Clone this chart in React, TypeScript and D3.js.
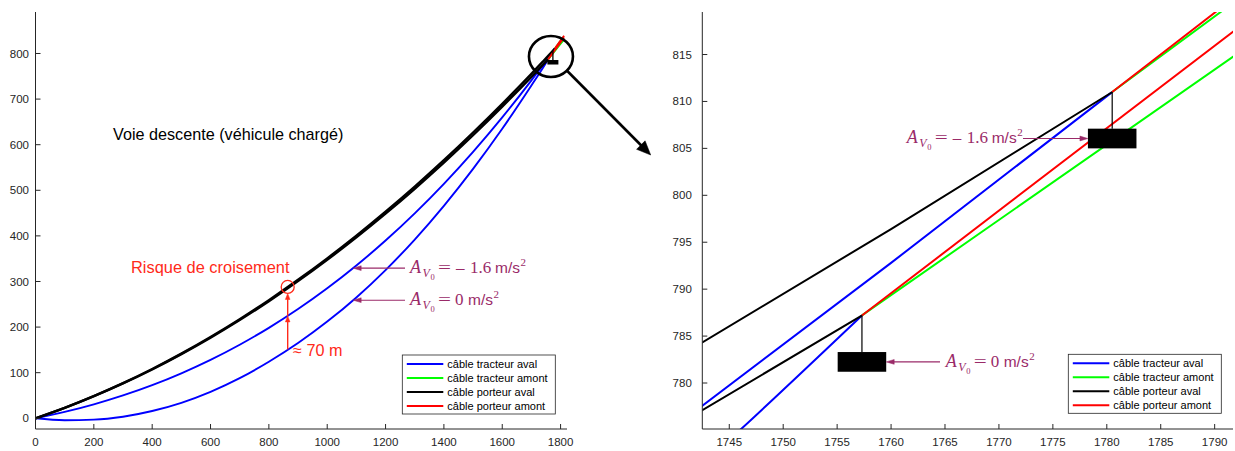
import React from "react";
import * as d3 from "d3";

const W = 1235;
const H = 451;

// ---------- tick values ----------
const xTicksLeft = [0, 200, 400, 600, 800, 1000, 1200, 1400, 1600, 1800];
const yTicksLeft = [0, 100, 200, 300, 400, 500, 600, 700, 800];
const xTicksRight = [1745, 1750, 1755, 1760, 1765, 1770, 1775, 1780, 1785, 1790];
const yTicksRight = [780, 785, 790, 795, 800, 805, 810, 815];

// ---------- legend ----------
const legendLabels = ["câble tracteur aval", "câble tracteur amont", "câble porteur aval", "câble porteur amont"];
const legendColors = ["#0000ff", "#00ff00", "#000000", "#ff0000"];

// ---------- series (x [m], altitude [m]) ----------
// câble tracteur aval, A_V0 = -1.6 m/s²
const tracteurAvalA16: [number, number][] = [
  [0, 0], [100, 13.9], [200, 30.6], [300, 50.1], [400, 72.7], [500, 98.7], [600, 128.1],
  [700, 161.3], [800, 198.4], [900, 239.6], [1000, 285.1], [1100, 335.1], [1200, 389.8],
  [1300, 449.4], [1400, 514.2], [1500, 584.3], [1600, 659.9], [1700, 741.2], [1740, 775.4],
  [1760, 792.8], [1780.5, 811],
];
// câble tracteur aval, A_V0 = 0 m/s²
const tracteurAvalA0: [number, number][] = [
  [0, 0], [100, -4.3], [200, -3.0], [300, 3.5], [400, 16], [500, 34], [600, 58], [700, 88],
  [800, 124], [900, 165], [1000, 212], [1100, 265], [1200, 325], [1300, 392], [1400, 466],
  [1500, 547], [1600, 635], [1700, 730], [1746.1, 775.1], [1757.3, 787.2],
];
// câble porteur aval, A_V0 = -1.6 m/s²
const porteurAvalA16: [number, number][] = [
  [0, 0], [100, 23.0], [200, 48.8], [300, 77.1], [400, 108.1], [500, 141.9], [600, 178.3],
  [700, 217.4], [800, 259.1], [900, 303.6], [1000, 350.7], [1100, 400.5], [1200, 453.0],
  [1300, 508.1], [1400, 565.9], [1500, 626.5], [1600, 689.7], [1700, 755.6], [1740, 782.6],
  [1760, 796.4], [1780.5, 811.0],
];
// câble porteur aval, A_V0 = 0 m/s²
const porteurAvalA0: [number, number][] = [
  [0, 0], [100, 22.8], [200, 48.4], [300, 76.4], [400, 107.1], [500, 140.6], [600, 176.7],
  [700, 215.4], [800, 256.7], [900, 300.8], [1000, 347.5], [1100, 396.8], [1200, 448.8],
  [1300, 503.4], [1400, 560.7], [1500, 620.7], [1600, 683.4], [1700, 748.6], [1740, 775.4],
  [1757.3, 787.2],
];
// amont segments
const tracteurAmontA16: [number, number][] = [[1780.5, 811], [1795, 823.3], [1810, 836.1]];
const tracteurAmontA0: [number, number][] = [[1757.3, 787.2], [1792, 815.0], [1810, 829.4]];
const porteurAmontA16: [number, number][] = [[1780.5, 811], [1795, 823.9], [1812, 839]];
const porteurAmontA0: [number, number][] = [[1757.3, 787.2], [1792, 817.7], [1812, 835.2]];

// vehicles (attachment points)
const carA16 = { x: 1780.5, y: 811 };
const carA0 = { x: 1757.3, y: 787.2 };

// annotation anchors (data units)
const crossX = 864.5;
const crossLow = 151;
const crossMid = 224.5;
const crossTop = 288;
const labelTipX = 1089;
const labelTipA16 = 329.3;
const labelTipA0 = 259;

// ---------- styles ----------
const AXIS = "#262626";
const PURPLE = "#9a2a68";
const RED_TXT = "#ff2a1a";
const SANS = "'Liberation Sans', Arial, Helvetica, sans-serif";
const SERIF = "'Liberation Serif', 'Times New Roman', serif";

// ---------- scales ----------
const xL = d3.scaleLinear().domain([0, 1822]).range([35.5, 567]);
const yL = d3.scaleLinear().domain([-23.5, 891]).range([429, 12]);
const xR = d3.scaleLinear().domain([1742.5, 1791.7]).range([702.3, 1233]);
const yR = d3.scaleLinear().domain([775.1, 819.53]).range([429, 12]);

type Sc = d3.ScaleLinear<number, number>;

function Axes({ x, y, xTicks, yTicks, gap }: { x: Sc; y: Sc; xTicks: number[]; yTicks: number[]; gap: number }) {
  const [x0, x1] = x.range();
  const [yb, yt] = y.range();
  return (
    <g>
      <line x1={x0} x2={x1} y1={yb} y2={yb} stroke={AXIS} strokeWidth={1} />
      <line x1={x0} x2={x0} y1={yb} y2={yt} stroke={AXIS} strokeWidth={1} />
      {xTicks.map((t) => (
        <g key={"x" + t}>
          <line x1={x(t)} x2={x(t)} y1={yb} y2={yb - 5} stroke={AXIS} />
          <text x={x(t)} y={446} textAnchor="middle" fontFamily={SANS} fontSize={11.5} fill={AXIS}>
            {t}
          </text>
        </g>
      ))}
      {yTicks.map((t) => (
        <g key={"y" + t}>
          <line x1={x0} x2={x0 + 5} y1={y(t)} y2={y(t)} stroke={AXIS} />
          <text x={x0 - gap} y={y(t)} dy="0.35em" textAnchor="end" fontFamily={SANS} fontSize={11.5} fill={AXIS}>
            {t}
          </text>
        </g>
      ))}
    </g>
  );
}

function Legend({ x, y }: { x: number; y: number }) {
  return (
    <g>
      <rect x={x} y={y} width={153} height={59} fill="#fff" stroke={AXIS} strokeWidth={0.8} />
      {legendLabels.map((l, i) => {
        const ry = y + 9 + i * 14;
        return (
          <g key={l}>
            <line x1={x + 4.5} x2={x + 41} y1={ry} y2={ry} stroke={legendColors[i]} strokeWidth={2} />
            <text x={x + 45} y={ry} dy="0.35em" fontFamily={SANS} fontSize={11} fill="#000">
              {l}
            </text>
          </g>
        );
      })}
    </g>
  );
}

function MathLabel({ x, y, neg }: { x: number; y: number; neg: boolean }) {
  return (
    <text fill={PURPLE} fontFamily={SERIF} fontSize={17}>
      <tspan x={x} y={y} fontStyle="italic" fontSize={18}>A</tspan>
      <tspan x={x + 12.5} y={y + 4} fontStyle="italic" fontSize={12}>V</tspan>
      <tspan x={x + 20.5} y={y + 7} fontSize={8.5}>0</tspan>
      <tspan x={x + 28} y={y} textLength={13} lengthAdjust="spacingAndGlyphs">=</tspan>
      {neg ? (
        <>
          <tspan x={x + 46} y={y}>–</tspan>
          <tspan x={x + 60} y={y}>1.6</tspan>
        </>
      ) : (
        <tspan x={x + 45} y={y}>0</tspan>
      )}
      <tspan x={x + (neg ? 85 : 58)} y={y} fontFamily={SANS} fontSize={15.5}>m/s</tspan>
      <tspan x={x + (neg ? 110.5 : 83.5)} y={y - 7} fontSize={11}>2</tspan>
    </text>
  );
}

function Arrow({ x1, y1, x2, y2, color, width, head, half }: { x1: number; y1: number; x2: number; y2: number; color: string; width: number; head: number; half: number }) {
  const dx = x2 - x1;
  const dy = y2 - y1;
  const len = Math.hypot(dx, dy);
  const ux = dx / len;
  const uy = dy / len;
  const bx = x2 - ux * head;
  const by = y2 - uy * head;
  const px = -uy;
  const py = ux;
  const tri = `M${x2},${y2}L${bx + px * half},${by + py * half}L${bx - px * half},${by - py * half}Z`;
  return (
    <g>
      <line x1={x1} y1={y1} x2={bx + ux * 1} y2={by + uy * 1} stroke={color} strokeWidth={width} />
      <path d={tri} fill={color} stroke={color} strokeWidth={0.5} />
    </g>
  );
}

function Series({ data, x, y, color, w, smooth }: { data: [number, number][]; x: Sc; y: Sc; color: string; w: number; smooth: boolean }) {
  const gen = d3
    .line<[number, number]>()
    .x((d) => x(d[0]))
    .y((d) => y(d[1]))
    .curve(smooth ? d3.curveMonotoneX : d3.curveLinear);
  return <path d={gen(data) || ""} fill="none" stroke={color} strokeWidth={w} strokeLinejoin="round" />;
}

function Cables({ x, y, wBlack, w }: { x: Sc; y: Sc; wBlack: number; w: number }) {
  return (
    <g>
      <Series data={tracteurAvalA16} x={x} y={y} color="#0000ff" w={w} smooth />
      <Series data={tracteurAvalA0} x={x} y={y} color="#0000ff" w={w} smooth />
      <Series data={tracteurAmontA16} x={x} y={y} color="#00ff00" w={w} smooth={false} />
      <Series data={tracteurAmontA0} x={x} y={y} color="#00ff00" w={w} smooth={false} />
      <Series data={porteurAvalA16} x={x} y={y} color="#000000" w={wBlack} smooth />
      <Series data={porteurAvalA0} x={x} y={y} color="#000000" w={wBlack} smooth />
      <Series data={porteurAmontA16} x={x} y={y} color="#ff0000" w={w} smooth={false} />
      <Series data={porteurAmontA0} x={x} y={y} color="#ff0000" w={w} smooth={false} />
    </g>
  );
}

function CarRight({ c }: { c: { x: number; y: number } }) {
  const top = c.y - 3.9;
  return (
    <g>
      <line x1={xR(c.x)} x2={xR(c.x)} y1={yR(c.y)} y2={yR(top)} stroke="#000" strokeWidth={1.2} />
      <rect x={xR(c.x - 2.25)} y={yR(top)} width={xR(c.x + 2.25) - xR(c.x - 2.25)} height={yR(top - 2.1) - yR(top)} fill="#000" />
    </g>
  );
}

export default function App() {
  const cx = xL(crossX);
  const circleR = 6.5;
  const zx = xL(1767);
  const zy = yL(793.4);
  const lcTop = carA16.y - 25.3;

  const rUpTip = { x: xR(carA16.x - 2.25), y: yR(carA16.y - 3.9 - 1.05) };
  const rLowTip = { x: xR(carA0.x + 2.25), y: yR(carA0.y - 3.9 - 1.05) };

  return (
    <svg width={W} height={H} style={{ position: "absolute", left: 0, top: 0, background: "#fff" }}>
      <defs>
        <clipPath id="clipL">
          <rect x={35.5} y={12} width={567 - 35.5} height={429 - 12} />
        </clipPath>
        <clipPath id="clipR">
          <rect x={702.3} y={12} width={1233 - 702.3} height={429 - 12} />
        </clipPath>
      </defs>
      <rect x={0} y={0} width={W} height={H} fill="#fff" />

      {/* ---------- left plot ---------- */}
      <g clipPath="url(#clipL)">
        <Cables x={xL} y={yL} wBlack={2.4} w={1.9} />
      </g>
      <line x1={xL(carA16.x) - 2} x2={xL(carA16.x) - 2} y1={yL(carA16.y) + 1.5} y2={yL(lcTop)} stroke="#000" strokeWidth={1.3} />
      <rect x={xL(carA16.x) - 7.5} y={yL(lcTop)} width={11} height={4.5} fill="#000" />
      <Axes x={xL} y={yL} xTicks={xTicksLeft} yTicks={yTicksLeft} gap={6.5} />

      <text x={113} y={139.5} fontFamily={SANS} fontSize={16.2} fill="#000">
        Voie descente (véhicule chargé)
      </text>

      <text x={131} y={273.3} fontFamily={SANS} fontSize={16.4} fill={RED_TXT}>
        Risque de croisement
      </text>
      <circle cx={cx} cy={yL(crossTop)} r={circleR} fill="none" stroke={RED_TXT} strokeWidth={1.3} />
      <Arrow x1={cx} y1={yL(crossLow)} x2={cx} y2={yL(crossMid)} color={RED_TXT} width={1.4} head={6} half={2.3} />
      <Arrow x1={cx} y1={yL(crossMid)} x2={cx} y2={yL(crossTop) + circleR} color={RED_TXT} width={1.4} head={6} half={2.3} />
      <text x={293} y={355.5} fontFamily={SANS} fontSize={16.2} fill={RED_TXT}>
        ≈ 70 m
      </text>

      <Arrow x1={405} y1={yL(labelTipA16)} x2={xL(labelTipX)} y2={yL(labelTipA16)} color={PURPLE} width={1.1} head={8} half={2.4} />
      <MathLabel x={410} y={yL(labelTipA16) + 4.5} neg={true} />
      <Arrow x1={405} y1={yL(labelTipA0)} x2={xL(labelTipX)} y2={yL(labelTipA0)} color={PURPLE} width={1.1} head={8} half={2.4} />
      <MathLabel x={410} y={yL(labelTipA0) + 4.5} neg={false} />

      <Legend x={402.3} y={355} />

      <ellipse cx={zx} cy={zy} rx={22} ry={20.5} fill="none" stroke="#000" strokeWidth={2.6} />
      <Arrow x1={567.3} y1={71} x2={650.7} y2={155} color="#000" width={2.6} head={14} half={6} />

      {/* ---------- right plot ---------- */}
      <g clipPath="url(#clipR)">
        <Cables x={xR} y={yR} wBlack={2} w={2} />
        <CarRight c={carA16} />
        <CarRight c={carA0} />
      </g>
      <Axes x={xR} y={yR} xTicks={xTicksRight} yTicks={yTicksRight} gap={10.5} />

      <Arrow x1={1023} y1={rUpTip.y} x2={rUpTip.x} y2={rUpTip.y} color={PURPLE} width={1.1} head={8} half={2.4} />
      <MathLabel x={906.7} y={rUpTip.y + 4.3} neg={true} />
      <Arrow x1={940} y1={rLowTip.y} x2={rLowTip.x} y2={rLowTip.y} color={PURPLE} width={1.1} head={8} half={2.4} />
      <MathLabel x={945.7} y={rLowTip.y + 4.8} neg={false} />

      <Legend x={1068.3} y={354.3} />
    </svg>
  );
}
